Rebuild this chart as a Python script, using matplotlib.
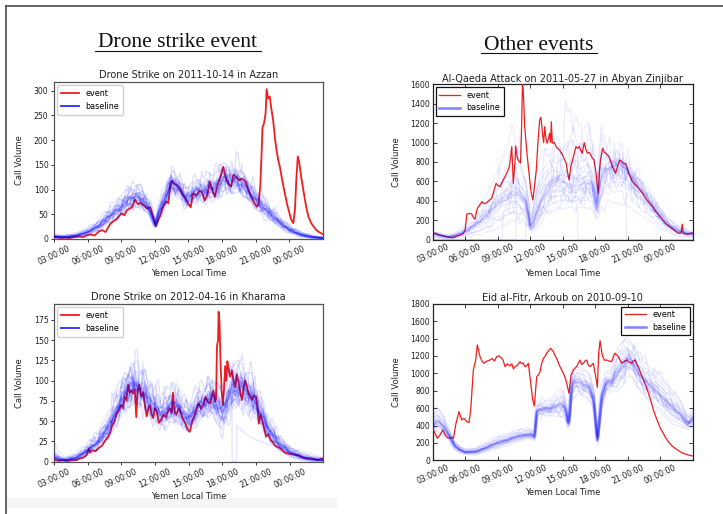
import numpy as np
import matplotlib
matplotlib.use("Agg")
import matplotlib.pyplot as plt
from matplotlib.lines import Line2D
from matplotlib.patches import Rectangle

# ---------------------------------------------------------------- data
# Hours are measured from midnight of the event day; 24-27 is the next night.
tick_hours = [3, 6, 9, 12, 15, 18, 21, 24]
tick_labels = ["03:00:00", "06:00:00", "09:00:00", "12:00:00",
               "15:00:00", "18:00:00", "21:00:00", "00:00:00"]

# Drone strike, 2011-10-14, Azzan: event call volume (hour, calls)
azzan_event = [
    (3.0, 5), (3.3, 3), (3.7, 2), (4.0, 3), (4.4, 2), (4.8, 4), (5.2, 5), (5.6, 4),
    (6.0, 8), (6.3, 9), (6.6, 7), (7.0, 15), (7.3, 18), (7.6, 14), (8.0, 30),
    (8.3, 36), (8.6, 40), (9.0, 52), (9.3, 48), (9.5, 58), (9.8, 62), (10.0, 66),
    (10.2, 80), (10.5, 70), (10.7, 73), (11.0, 68), (11.3, 62), (11.6, 64),
    (11.85, 45), (12.1, 26), (12.3, 38), (12.5, 48), (12.75, 66), (13.0, 76),
    (13.2, 72), (13.35, 100), (13.5, 118), (13.7, 112), (14.0, 108), (14.2, 102),
    (14.5, 88), (14.8, 80), (15.0, 70), (15.2, 64), (15.4, 92), (15.7, 88),
    (16.0, 98), (16.2, 95), (16.45, 78), (16.7, 90), (16.9, 116), (17.1, 100),
    (17.35, 85), (17.6, 110), (17.8, 122), (18.0, 138), (18.1, 146), (18.35, 120),
    (18.6, 110), (18.8, 106), (19.0, 130), (19.25, 126), (19.5, 118), (19.7, 122),
    (19.9, 120), (20.1, 115), (20.4, 95), (20.7, 82), (20.9, 72), (21.1, 65),
    (21.25, 70), (21.4, 106), (21.5, 160), (21.6, 225), (21.75, 235), (21.88, 255),
    (21.97, 303), (22.1, 284), (22.25, 288), (22.4, 262), (22.55, 240), (22.7, 207),
    (22.85, 180), (23.0, 160), (23.15, 146), (23.35, 120), (23.6, 92), (23.8, 70),
    (24.0, 53), (24.15, 40), (24.35, 32), (24.5, 60), (24.62, 120), (24.75, 167),
    (24.88, 155), (25.05, 126), (25.2, 105), (25.5, 65), (25.7, 45), (25.95, 32),
    (26.2, 24), (26.4, 18), (26.65, 14), (26.95, 10),
]
# Azzan baseline days: (hour, typical level, half width of the spread)
azzan_baseline = [
    (3.0, 5, 3), (4.0, 4, 3), (5.0, 7, 4), (6.0, 14, 6), (7.0, 27, 9), (8.0, 47, 13),
    (9.0, 66, 16), (9.5, 78, 18), (10.0, 84, 20), (10.5, 86, 20), (11.0, 78, 18),
    (11.5, 60, 14), (11.85, 40, 10), (12.05, 28, 7), (12.3, 50, 10), (12.7, 74, 12),
    (13.0, 88, 15), (13.4, 115, 15), (13.8, 112, 15), (14.3, 100, 15), (14.8, 82, 15),
    (15.3, 90, 18), (15.8, 100, 20), (16.3, 95, 20), (16.8, 105, 20), (17.3, 100, 22),
    (17.8, 118, 25), (18.3, 125, 25), (18.8, 116, 25), (19.3, 122, 22), (19.8, 112, 22),
    (20.3, 100, 20), (21.0, 80, 18), (22.0, 58, 15), (23.0, 36, 11), (24.0, 19, 7),
    (25.0, 9, 5), (26.0, 4, 3), (27.0, 2, 2),
]

# Drone strike, 2012-04-16, Kharama
kharama_event = [
    (3.0, 3), (3.4, 1), (3.8, 2), (4.2, 1), (4.6, 2), (5.0, 2), (5.3, 4), (5.6, 5),
    (5.9, 8), (6.1, 16), (6.2, 11), (6.4, 14), (6.7, 13), (7.0, 17), (7.3, 20),
    (7.55, 26), (7.8, 30), (8.0, 36), (8.2, 45), (8.4, 50), (8.6, 60), (8.8, 64),
    (9.0, 70), (9.15, 66), (9.3, 80), (9.45, 76), (9.6, 95), (9.75, 85), (9.9, 88),
    (10.05, 84), (10.2, 90), (10.33, 55), (10.45, 88), (10.6, 95), (10.78, 80),
    (10.95, 86), (11.1, 70), (11.25, 56), (11.4, 66), (11.55, 70), (11.7, 58),
    (11.85, 54), (12.0, 66), (12.15, 62), (12.35, 48), (12.55, 52), (12.75, 58),
    (12.95, 55), (13.15, 62), (13.35, 66), (13.5, 60), (13.6, 85), (13.75, 62),
    (13.9, 58), (14.1, 66), (14.3, 60), (14.5, 52), (14.7, 48), (14.9, 40),
    (15.1, 37), (15.3, 48), (15.5, 56), (15.7, 66), (15.9, 72), (16.1, 65),
    (16.3, 70), (16.5, 80), (16.7, 74), (16.9, 72), (17.05, 80), (17.2, 88),
    (17.35, 74), (17.45, 78), (17.52, 142), (17.62, 150), (17.67, 185), (17.75, 172),
    (17.85, 120), (17.95, 85), (18.05, 70), (18.15, 90), (18.25, 118), (18.35, 100),
    (18.45, 124), (18.55, 115), (18.7, 105), (18.85, 113), (19.0, 100), (19.15, 92),
    (19.3, 108), (19.45, 98), (19.6, 86), (19.75, 76), (19.9, 92), (20.05, 100),
    (20.2, 92), (20.35, 84), (20.5, 80), (20.65, 76), (20.8, 82), (21.0, 80),
    (21.15, 66), (21.25, 47), (21.4, 58), (21.55, 51), (21.75, 40), (21.9, 31),
    (22.1, 34), (22.3, 27), (22.5, 24), (22.75, 19), (23.0, 18), (23.35, 14),
    (23.6, 11), (23.95, 10), (24.3, 9), (24.8, 8), (25.4, 4), (26.0, 4), (26.5, 2),
    (26.95, 4),
]
kharama_baseline = [
    (3.0, 6, 6), (3.5, 3, 3), (4.0, 2, 2), (5.0, 5, 4), (6.0, 14, 6), (7.0, 26, 9),
    (8.0, 46, 13), (8.5, 62, 15), (9.0, 76, 18), (9.5, 88, 20), (10.0, 95, 22),
    (10.5, 92, 22), (11.0, 85, 22), (11.5, 75, 20), (12.0, 66, 20), (12.5, 60, 18),
    (13.0, 62, 18), (13.5, 70, 20), (14.0, 68, 18), (14.5, 60, 17), (15.0, 52, 16),
    (15.5, 62, 16), (16.0, 70, 18), (16.5, 75, 18), (17.0, 78, 20), (17.5, 72, 22),
    (18.0, 60, 26), (18.4, 76, 24), (18.8, 88, 24), (19.3, 92, 24), (19.8, 92, 24),
    (20.3, 86, 22), (21.0, 72, 18), (21.5, 58, 15), (22.0, 42, 13), (23.0, 23, 9),
    (24.0, 12, 6), (25.0, 6, 4), (26.0, 3, 3), (27.0, 2, 2),
]
# one baseline day in Kharama with a gap in the evening
kharama_gap_day = [
    (3.0, 25), (3.4, 12), (4.0, 5), (5.0, 6), (6.0, 14), (7.0, 25), (8.0, 44),
    (9.0, 75), (10.0, 100), (11.0, 90), (12.0, 70), (13.0, 65), (14.0, 75),
    (15.0, 55), (16.0, 72), (17.0, 85), (18.0, 65), (18.5, 80), (18.85, 85),
    (18.88, 0), (19.26, 0), (19.3, 45), (19.6, 40), (20.2, 33), (21.0, 27),
    (22.0, 22), (23.0, 20), (24.0, 17), (25.0, 13), (26.0, 9), (27.0, 5),
]

# Al-Qaeda attack, 2011-05-27, Abyan Zinjibar
zinjibar_event = [
    (3.0, 82), (3.1, 72), (3.4, 60), (3.7, 48), (4.0, 40), (4.3, 31), (4.6, 24),
    (4.9, 21), (5.2, 35), (5.5, 48), (5.8, 60), (6.0, 100), (6.15, 265), (6.4, 270),
    (6.6, 265), (6.75, 230), (6.9, 210), (7.12, 323), (7.3, 350), (7.53, 391),
    (7.75, 370), (7.99, 381), (8.2, 400), (8.45, 426), (8.65, 500), (8.85, 580),
    (9.0, 560), (9.22, 546), (9.45, 600), (9.68, 649), (9.9, 700), (10.08, 752),
    (10.2, 850), (10.3, 958), (10.45, 580), (10.6, 800), (10.67, 965), (10.8, 850),
    (10.9, 820), (11.12, 790), (11.22, 1200), (11.3, 1650), (11.38, 1500),
    (11.5, 1164), (11.7, 900), (11.96, 615), (12.1, 480), (12.26, 409), (12.4, 550),
    (12.57, 718), (12.72, 1000), (12.88, 1233), (13.0, 1260), (13.14, 1096),
    (13.25, 1000), (13.35, 1164), (13.45, 1050), (13.57, 993), (13.7, 1040),
    (13.8, 1096), (13.9, 1000), (13.96, 1215), (14.05, 1000), (14.1, 993),
    (14.25, 1000), (14.4, 958), (14.55, 940), (14.7, 924), (14.85, 900), (15.0, 872),
    (15.15, 830), (15.33, 787), (15.45, 700), (15.6, 615), (15.75, 750), (15.93, 821),
    (16.1, 900), (16.24, 958), (16.4, 940), (16.55, 958), (16.68, 920), (16.8, 890),
    (17.0, 999), (17.15, 930), (17.3, 890), (17.45, 900), (17.6, 872), (17.75, 840),
    (17.9, 821), (18.1, 684), (18.2, 560), (18.3, 478), (18.4, 700), (18.5, 821),
    (18.7, 941), (18.85, 900), (19.0, 890), (19.15, 870), (19.3, 855), (19.45, 800),
    (19.6, 752), (19.75, 720), (19.9, 684), (20.15, 787), (20.3, 820), (20.5, 804),
    (20.65, 780), (20.8, 787), (20.95, 750), (21.1, 684), (21.3, 640), (21.45, 598),
    (21.7, 570), (21.9, 546), (22.15, 510), (22.4, 478), (22.6, 440), (22.8, 409),
    (23.05, 370), (23.3, 340), (23.6, 290), (23.9, 254), (24.2, 210), (24.5, 169),
    (24.8, 140), (25.1, 117), (25.4, 90), (25.7, 66), (25.95, 70), (26.05, 161),
    (26.15, 66), (26.5, 58), (26.75, 60), (26.97, 72),
]
# Zinjibar baseline days: (hour, typical level, low edge, high edge)
zinjibar_baseline = [
    (3.0, 65, 20, 90), (3.5, 50, 15, 75), (4.0, 35, 10, 60), (4.5, 28, 10, 50),
    (5.0, 40, 15, 70), (5.5, 60, 20, 100), (6.0, 85, 30, 150), (6.5, 120, 40, 200),
    (7.0, 160, 50, 270), (7.5, 205, 60, 350), (8.0, 260, 80, 450), (8.5, 320, 100, 580),
    (9.0, 375, 120, 700), (9.5, 420, 150, 850), (10.0, 455, 180, 1000),
    (10.4, 475, 200, 1200), (11.0, 460, 200, 900), (11.5, 410, 180, 700),
    (11.8, 300, 140, 500), (12.0, 140, 80, 300), (12.2, 150, 90, 380),
    (12.5, 240, 120, 600), (13.0, 390, 200, 900), (13.5, 510, 260, 950),
    (14.0, 570, 300, 1000), (14.5, 600, 310, 1050), (15.0, 600, 320, 1100),
    (15.5, 580, 330, 1250), (15.9, 560, 330, 1330), (16.5, 565, 330, 1150),
    (17.0, 580, 330, 1150), (17.5, 600, 320, 1250), (17.8, 560, 300, 950),
    (18.0, 420, 250, 700), (18.15, 330, 200, 500), (18.3, 450, 250, 800),
    (18.6, 650, 350, 1180), (19.0, 715, 380, 1000), (19.5, 745, 380, 900),
    (20.0, 770, 380, 850), (20.5, 750, 370, 830), (21.0, 715, 350, 800),
    (21.5, 620, 300, 720), (22.0, 545, 270, 650), (22.5, 475, 230, 580),
    (23.0, 400, 200, 500), (23.5, 320, 160, 420), (24.0, 250, 120, 330),
    (24.5, 185, 90, 260), (25.0, 135, 60, 200), (25.5, 100, 40, 160),
    (26.0, 80, 30, 120), (26.5, 65, 25, 100), (27.0, 60, 20, 80),
]

# Eid al-Fitr, 2010-09-10, Arkoub
arkoub_event = [
    (3.0, 368), (3.22, 310), (3.43, 253), (3.68, 291), (3.92, 349), (4.14, 291),
    (4.45, 253), (4.75, 264), (4.91, 253), (5.15, 425), (5.43, 559), (5.68, 463),
    (5.89, 483), (6.14, 444), (6.35, 433), (6.51, 578), (6.75, 1038), (6.97, 1153),
    (7.12, 1325), (7.37, 1191), (7.55, 1140), (7.74, 1115), (8.0, 1140), (8.29, 1153),
    (8.5, 1170), (8.7, 1140), (8.91, 1191), (9.1, 1200), (9.37, 1172), (9.5, 1150),
    (9.68, 1076), (9.9, 1110), (10.14, 1084), (10.3, 1110), (10.45, 1050),
    (10.6, 1076), (10.8, 1090), (11.06, 1134), (11.2, 1110), (11.35, 1120),
    (11.52, 1076), (11.7, 1090), (11.83, 1115), (12.05, 885), (12.23, 693),
    (12.38, 624), (12.6, 961), (12.75, 980), (12.91, 1019), (13.05, 1110),
    (13.22, 1172), (13.35, 1190), (13.52, 1230), (13.7, 1260), (13.89, 1287),
    (14.14, 1249), (14.3, 1200), (14.45, 1172), (14.6, 1120), (14.75, 1076),
    (14.9, 1040), (15.06, 1000), (15.2, 960), (15.37, 885), (15.58, 770),
    (15.77, 980), (15.98, 1038), (16.15, 1060), (16.29, 1076), (16.45, 1120),
    (16.6, 1153), (16.75, 1100), (16.91, 1115), (17.05, 1140), (17.22, 1153),
    (17.35, 1100), (17.52, 1076), (17.7, 1100), (17.83, 1115), (18.05, 961),
    (18.2, 839), (18.32, 1230), (18.45, 1375), (18.6, 1250), (18.69, 1191),
    (18.85, 1150), (19.06, 1153), (19.3, 1140), (19.52, 1134), (19.7, 1200),
    (19.83, 1230), (20.0, 1210), (20.14, 1191), (20.3, 1150), (20.45, 1115),
    (20.7, 1140), (20.91, 1153), (21.1, 1130), (21.37, 1115), (21.5, 1140),
    (21.68, 1153), (21.85, 1100), (21.98, 1076), (22.2, 1000), (22.45, 923),
    (22.7, 850), (22.91, 770), (23.15, 680), (23.37, 578), (23.6, 500), (23.83, 425),
    (24.05, 360), (24.29, 310), (24.5, 260), (24.75, 214), (25.05, 170), (25.37, 138),
    (25.7, 110), (25.98, 88), (26.3, 72), (26.6, 61), (26.97, 50),
]
arkoub_baseline = [
    (3.0, 400, 130), (3.5, 450, 140), (4.0, 390, 110), (4.5, 290, 60), (5.0, 170, 50),
    (5.5, 120, 35), (6.0, 95, 30), (7.0, 100, 35), (8.0, 150, 50), (9.0, 200, 60),
    (10.0, 240, 60), (11.0, 280, 60), (12.0, 300, 55), (12.4, 265, 45), (12.5, 420, 60),
    (12.6, 560, 70), (13.0, 590, 80), (14.0, 600, 90), (15.0, 650, 150),
    (15.3, 560, 110), (15.5, 420, 60), (15.6, 470, 70), (15.8, 820, 120),
    (16.0, 900, 140), (16.5, 900, 140), (17.0, 870, 150), (17.5, 830, 150),
    (17.85, 700, 120), (18.05, 420, 80), (18.2, 210, 40), (18.35, 420, 80),
    (18.6, 730, 100), (19.0, 890, 110), (19.5, 900, 100), (20.0, 1000, 200),
    (20.5, 1080, 230), (21.0, 1180, 200), (21.5, 1120, 200), (22.0, 1000, 190),
    (23.0, 865, 200), (24.0, 750, 200), (25.0, 620, 190), (26.0, 510, 130),
    (26.6, 420, 70), (27.0, 480, 80),
]

# position of each baseline day inside the band (-1 low edge, +1 high edge)
# and a small shift in hours that keeps the days from lying on top of each other
band_weights = [-1.0, -0.75, -0.55, -0.4, -0.3, -0.22, -0.15, -0.1, -0.06, -0.03,
                0.0, 0.0, 0.03, 0.06, 0.1, 0.15, 0.22, 0.3, 0.4, 0.55, 0.75, 1.0,
                1.2, -0.45]
band_shifts = [0.05, -0.08, 0.1, -0.04, 0.07, -0.1, 0.02, 0.09, -0.06, 0.04, -0.02,
               0.0, 0.06, -0.09, 0.03, -0.05, 0.08, -0.03, 0.1, -0.07, 0.01, 0.05,
               -0.1, 0.07]
zinjibar_weights = [-1.0, -0.7, -0.45, -0.3, -0.2, -0.12, -0.08, -0.04, 0.0, 0.0,
                    0.03, 0.06, 0.1, 0.15, 0.25, 0.45, 0.7, 1.0, -0.5, 0.3, 0.6, -0.7,
                    0.1]
# hours during which each Zinjibar baseline day has data (zero outside)
zinjibar_windows = [(3, 27)] * 18 + [(9.5, 27), (10.7, 27), (11.6, 27),
                                      (3, 16.4), (3, 20.9)]

# ---------------------------------------------------------------- drawing
W, H = 723, 514
fig = plt.figure(figsize=(W / 100, H / 100), dpi=100)
fig.patch.set_facecolor("white")

hours = np.linspace(3, 27, 289)          # 5-minute bins
EVENT_RED = "#f01e1e"
BASE_BLUE = "#0000ff"


def axes_px(left, top, right, bottom):
    return fig.add_axes([left / W, 1 - bottom / H, (right - left) / W, (bottom - top) / H])


def column(rows, i):
    return np.array([r[i] for r in rows], dtype=float)


def roughness(event_rows):
    """Relative minute-to-minute wobble of a series around its 45-minute mean."""
    ev = np.interp(hours, column(event_rows, 0), column(event_rows, 1))
    padded = np.concatenate([np.full(4, ev[0]), ev, np.full(4, ev[-1])])
    smooth = np.convolve(padded, np.ones(9) / 9, mode="valid")
    return np.clip(ev / np.maximum(smooth, 1.0) - 1.0, -0.25, 0.25)


def draw_band(ax, rows, weights, shifts, alpha, wobble, windows=None):
    t = column(rows, 0)
    level = column(rows, 1)
    if len(rows[0]) == 3:
        low = level - column(rows, 2)
        high = level + column(rows, 2)
    else:
        low = column(rows, 2)
        high = column(rows, 3)
    for k, w in enumerate(weights):
        s = shifts[k % len(shifts)]
        x = hours - s
        lv = np.interp(x, t, level)
        edge = np.interp(x, t, high) if w >= 0 else np.interp(x, t, low)
        y = lv + abs(w) * (edge - lv)
        y = y * (1.0 + 0.8 * np.roll(wobble, 23 * k + 7))
        if windows is not None:
            a, b = windows[k]
            y = np.where((hours >= a) & (hours <= b), y, 0.0)
        ax.plot(hours, np.clip(y, 0, None), color=BASE_BLUE, alpha=alpha, lw=0.9,
                zorder=4)


def draw_event(ax, rows, lw):
    ax.plot(column(rows, 0), column(rows, 1), color=EVENT_RED, lw=lw, zorder=3)


def style_common(ax, title, yticks, ylim, pad):
    ax.set_xlim(3, 27)
    ax.set_ylim(*ylim)
    ax.set_xticks(tick_hours)
    ax.set_xticklabels(tick_labels, rotation=25, ha="center", fontsize=5.6)
    ax.set_yticks(yticks)
    ax.set_yticklabels([str(v) for v in yticks], fontsize=5.6)
    ax.set_title(title, fontsize=7, pad=pad, color="#222222")
    ax.set_xlabel("Yemen Local Time", fontsize=6, color="#222222")
    ax.set_ylabel("Call Volume", fontsize=6, color="#222222")


def style_modern(ax):
    for sp in ax.spines.values():
        sp.set_color("#555555")
        sp.set_linewidth(0.9)
    ax.tick_params(direction="out", length=2.5, width=0.7, pad=1.5,
                   colors="#333333", labelcolor="#222222")
    handles = [Line2D([], [], color=EVENT_RED, lw=1.3),
               Line2D([], [], color="#2a2aff", lw=1.3)]
    leg = ax.legend(handles, ["event", "baseline"], loc="upper left", fontsize=5.8,
                    handlelength=2.2, borderpad=0.5, labelspacing=0.5,
                    borderaxespad=0.4, framealpha=0.9, edgecolor="#cccccc")
    leg.set_zorder(6)


def style_classic(ax, loc):
    for sp in ax.spines.values():
        sp.set_color("#222222")
        sp.set_linewidth(0.9)
    ax.tick_params(direction="in", length=3, width=0.6, pad=2, top=True, right=True,
                   colors="#222222", labelcolor="#222222")
    handles = [Line2D([], [], color=EVENT_RED, lw=0.9),
               Line2D([], [], color="#7f7fff", lw=1.8)]
    leg = ax.legend(handles, ["event", "baseline"], loc=loc, fontsize=5.8,
                    handlelength=2.6, borderpad=0.45, labelspacing=0.45,
                    borderaxespad=0.35, fancybox=False, framealpha=1,
                    edgecolor="#111111")
    leg.get_frame().set_linewidth(0.9)
    leg.set_zorder(6)


# Azzan
ax1 = axes_px(54, 81.7, 323, 239)
draw_band(ax1, azzan_baseline, band_weights, band_shifts, 0.12, roughness(azzan_event))
draw_event(ax1, azzan_event, 1.3)
style_common(ax1, "Drone Strike on 2011-10-14 in Azzan", list(range(0, 301, 50)),
             (0, 318), 3)
style_modern(ax1)
ax1.yaxis.set_label_coords(-0.112, 0.5)
ax1.xaxis.set_label_coords(0.5, -0.19)

# Kharama
ax3 = axes_px(54, 303.7, 323.3, 461.7)
draw_band(ax3, kharama_baseline, band_weights, band_shifts, 0.12,
          roughness(kharama_event))
ax3.plot(column(kharama_gap_day, 0), column(kharama_gap_day, 1), color=BASE_BLUE,
         alpha=0.1, lw=1.0, zorder=4)
draw_event(ax3, kharama_event, 1.3)
style_common(ax3, "Drone Strike on 2012-04-16 in Kharama", list(range(0, 176, 25)),
             (0, 195), 3)
style_modern(ax3)
ax3.yaxis.set_label_coords(-0.112, 0.5)
ax3.xaxis.set_label_coords(0.5, -0.192)

# Zinjibar
ax2 = axes_px(432.7, 84.3, 692.5, 239.7)
draw_band(ax2, zinjibar_baseline, zinjibar_weights, band_shifts, 0.075,
          roughness(zinjibar_event), windows=zinjibar_windows)
draw_event(ax2, zinjibar_event, 0.9)
style_common(ax2, "Al-Qaeda Attack on 2011-05-27 in Abyan Zinjibar",
             list(range(0, 1601, 200)), (0, 1600), 1.5)
style_classic(ax2, "upper left")
ax2.yaxis.set_label_coords(-0.123, 0.5)
ax2.xaxis.set_label_coords(0.5, -0.189)

# Arkoub
ax4 = axes_px(432.7, 303.7, 692.7, 460.3)
draw_band(ax4, arkoub_baseline, band_weights, band_shifts, 0.085,
          0.5 * roughness(arkoub_event))
draw_event(ax4, arkoub_event, 0.9)
style_common(ax4, "Eid al-Fitr, Arkoub on 2010-09-10", list(range(0, 1801, 200)),
             (0, 1800), 2)
style_classic(ax4, "upper right")
ax4.yaxis.set_label_coords(-0.123, 0.5)
ax4.xaxis.set_label_coords(0.5, -0.175)

# ---------------------------------------------------------------- slide furniture
def fig_line(x0, y0, x1, y1, color, lw):
    fig.add_artist(Line2D([x0 / W, x1 / W], [1 - y0 / H, 1 - y1 / H],
                          transform=fig.transFigure, color=color, lw=lw))


fig_line(5.7, 5.7, W, 5.7, "#4a4a4a", 1.2)
fig_line(5.7, 5.7, 5.7, H, "#4a4a4a", 1.2)
fig.add_artist(Rectangle((7 / W, 1 - 508 / H), 330 / W, 10 / H,
                         transform=fig.transFigure, color="#f5f5f5", lw=0, zorder=0))

fig.text(178 / W, 1 - 42.5 / H, "Drone strike event", family="Liberation Serif",
         fontsize=15.5, ha="center", va="center", color="#111111")
fig_line(95, 50.7, 261, 50.7, "#111111", 0.8)
fig.text(539 / W, 1 - 45 / H, "Other events", family="Liberation Serif",
         fontsize=15.5, ha="center", va="center", color="#111111")
fig_line(481, 53.3, 597, 53.3, "#111111", 0.8)

fig.savefig("out.png", dpi=100)
